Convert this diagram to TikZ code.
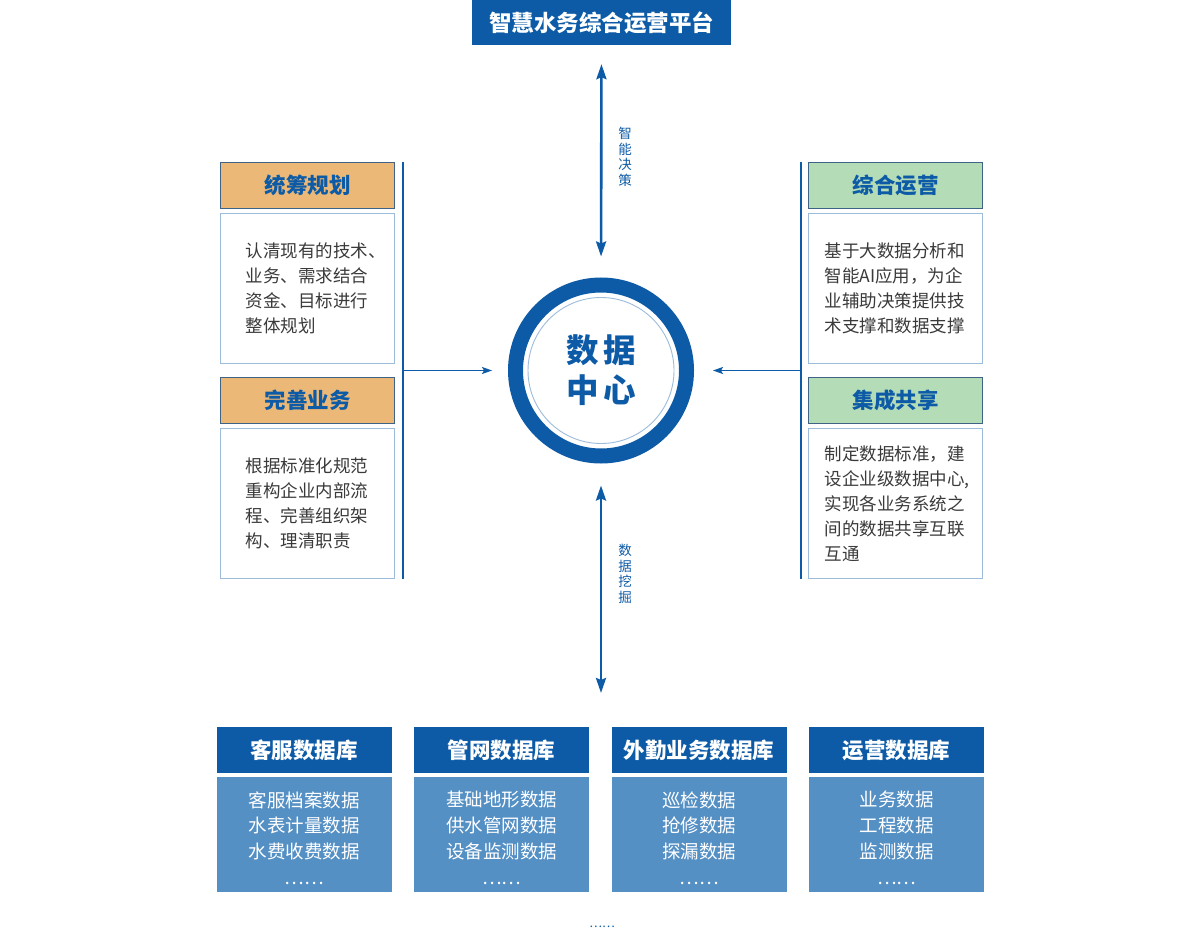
\documentclass[tikz,border=0pt]{standalone}
\usepackage{fontspec}
\setmainfont{Noto Sans CJK SC}
\usetikzlibrary{arrows.meta}
\definecolor{dblue}{HTML}{0D5BA6}
\definecolor{bodyblue}{HTML}{5590C5}
\definecolor{tanfill}{HTML}{EBB877}
\definecolor{greenfill}{HTML}{B4DCB6}
\definecolor{hdrline}{HTML}{3F6385}
\definecolor{lightline}{HTML}{9DBCDC}
\definecolor{txtgray}{HTML}{3A3A3A}
\begin{document}
\begin{tikzpicture}[x=1pt,y=-1pt,
  hdr/.style={draw=hdrline,line width=0.8pt,minimum width=174pt,minimum height=46pt,inner sep=0pt,
    font=\fontsize{21.5}{24}\selectfont\bfseries,text=dblue},
  content/.style={draw=lightline,line width=0.8pt,fill=white,minimum width=174pt,minimum height=150pt,
    inner xsep=25pt,inner ysep=0pt,text width=124pt,align=left,
    font=\fontsize{17.5}{25}\selectfont,text=txtgray},
  contentR/.style={content,inner xsep=16pt,text width=142pt},
  dbhdr/.style={fill=dblue,minimum width=175pt,minimum height=46pt,inner sep=0pt,
    font=\fontsize{21.5}{24}\selectfont\bfseries,text=white},
  dbbody/.style={fill=bodyblue,minimum width=175pt,minimum height=115pt,inner sep=0pt},
  dbtext/.style={align=center,text=white,font=\fontsize{18.5}{25.8}\selectfont},
  vlabel/.style={align=center,text=dblue,font=\fontsize{13.5}{15.5}\selectfont},
  bigarrow/.style={draw=dblue,line width=2.6pt,{Stealth[length=15pt,width=10pt,inset=2pt]}-{Stealth[length=15pt,width=10pt,inset=2pt]}},
  smallarrow/.style={draw=dblue,line width=1.1pt,-{Stealth[length=10pt,width=7pt,inset=2pt]}},
  sideline/.style={draw=dblue,line width=1.1pt}]
\useasboundingbox (0,0) rectangle (1201,928);
\fill[white] (0,0) rectangle (1201,928);

% top banner
\node[fill=dblue,minimum width=259pt,minimum height=45pt,inner sep=0pt,
  font=\fontsize{22.5}{24}\selectfont\bfseries,text=white] (top) at (601.5,22.5) {智慧水务综合运营平台};

% central circle
\node[circle,draw=dblue,line width=15pt,minimum size=171pt,inner sep=0pt] (dc) at (601,370.5) {};
\draw[lightline,line width=0.9pt] (dc.center) circle[radius=73pt];
\node[align=center,text=dblue,font=\fontsize{32.5}{40}\selectfont\bfseries] (dct) at (dc.center) {数\hspace{4pt}据\\中\hspace{4pt}心};

% vertical arrows
\coordinate (dbtop) at (601,727);
\draw[bigarrow,shorten <=19pt,shorten >=21pt] (top.south) -- (dc.north);
\draw[bigarrow,shorten <=22pt,shorten >=34pt] (dc.south) -- (dbtop);
\node[vlabel] (lab1) at (625,157) {智\\能\\决\\策};
\node[vlabel] (lab2) at (625,574) {数\\据\\挖\\掘};

% left side
\node[hdr,fill=tanfill] (l1) at (307.85,185.3) {统筹规划};
\node[content] (l1b) at (307.85,288.3) {认清现有的技术、\\业务、需求结合\\资金、目标进行\\整体规划};
\node[hdr,fill=tanfill] (l2) at (307.85,400.5) {完善业务};
\node[content] (l2b) at (307.85,503.7) {根据标准化规范\\重构企业内部流\\程、完善组织架\\构、理清职责};
\coordinate (lt) at (403,162);
\coordinate (lb) at (403,579);
\coordinate (lm) at (403,370.5);
\draw[sideline] (lt) -- (lb);
\draw[smallarrow,shorten >=16pt] (lm) -- (dc.west);

% right side
\node[hdr,fill=greenfill] (r1) at (895.5,185.3) {综合运营};
\node[contentR] (r1b) at (895.5,288.3) {基于大数据分析和\\智能AI应用，为企\\业辅助决策提供技\\术支撑和数据支撑};
\node[hdr,fill=greenfill] (r2) at (895.5,400.5) {集成共享};
\node[contentR] (r2b) at (895.5,503.7) {制定数据标准，建\\设企业级数据中心,\\实现各业务系统之\\间的数据共享互联\\互通};
\coordinate (rt) at (801,162);
\coordinate (rb) at (801,579);
\coordinate (rm) at (801,370.5);
\draw[sideline] (rt) -- (rb);
\draw[smallarrow,shorten >=19pt] (rm) -- (dc.east);

% bottom databases
\node[dbhdr] (d1) at (304.2,750.3) {客服数据库};
\node[dbbody] (d1b) at (304.2,834.2) {};
\node[dbtext] (d1t) at (304.2,838) {客服档案数据\\水表计量数据\\水费收费数据\\……};
\node[dbhdr] (d2) at (501.7,750.3) {管网数据库};
\node[dbbody] (d2b) at (501.7,834.2) {};
\node[dbtext] (d2t) at (501.7,838) {基础地形数据\\供水管网数据\\设备监测数据\\……};
\node[dbhdr] (d3) at (699.2,750.3) {外勤业务数据库};
\node[dbbody] (d3b) at (699.2,834.2) {};
\node[dbtext] (d3t) at (699.2,838) {巡检数据\\抢修数据\\探漏数据\\……};
\node[dbhdr] (d4) at (896.7,750.3) {运营数据库};
\node[dbbody] (d4b) at (896.7,834.2) {};
\node[dbtext] (d4t) at (896.7,838) {业务数据\\工程数据\\监测数据\\……};

\node[text=dblue,font=\fontsize{12}{14}\selectfont] (more) at (602,927) {……};
\end{tikzpicture}
\end{document}
